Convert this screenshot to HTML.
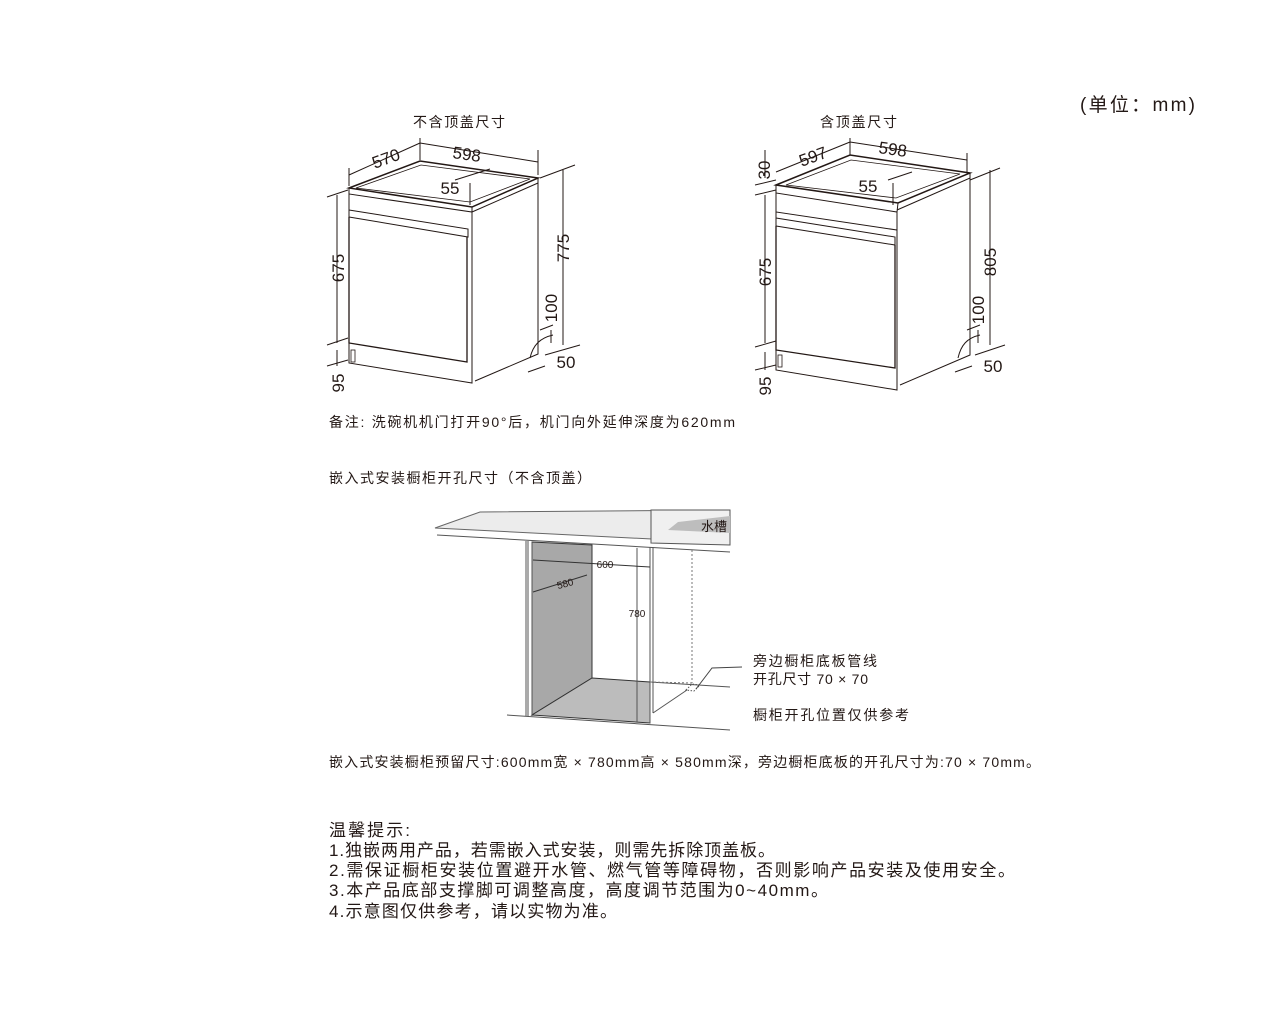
<!DOCTYPE html>
<html><head><meta charset="utf-8"><style>
html,body{margin:0;padding:0;background:#fff;}
svg{display:block;}
text{font-family:"Liberation Sans","Noto Sans CJK SC",sans-serif;fill:#231815;}
</style></head><body>
<svg width="1280" height="1013" viewBox="0 0 1280 1013" xmlns="http://www.w3.org/2000/svg">
<g stroke="#231815" fill="none" stroke-width="1">
<!-- LEFT UNIT -->
<path d="M349,188 L420,161 L538,178 L472,207 Z" stroke-width="1.5"/>
<path d="M356,188 L421,165 L530,179 L470,202 Z" stroke-width="0.8"/>
<path d="M349,188 L349,194 L472,212 L472,207"/>
<path d="M349,194 L349,363 L472,383 L472,212"/>
<path d="M349,210 L468,229 L468,237 L349,217"/>
<path d="M349,217 L349,343 L467,362 L467,237" stroke-width="1.3"/>
<path d="M472,207 L538,178 L538,354 L475,381"/>
<path d="M472,212 L538,183"/>
<rect x="351" y="350" width="4" height="12" stroke-width="0.8"/>
<!-- dims left -->
<path d="M349,175 L420,143 M420,138 L420,160 M538,150 L538,175 M420,143 L538,162 M349,168 L349,186"/>
<path d="M337,195 L337,343 M327,197 L348,190 M327,345 L348,338 M337,350 L337,366 M327,366 L348,360"/>
<path d="M563,170 L563,345 M540,178 L575,165 M545,355 L580,345 M551,330 L551,343 M540,330 L553,325 M530,358 C533,345 540,338 553,335 M528,372 L545,366"/>
<path d="M455,180 L490,169 M470,183 L470,205"/>
<!-- RIGHT UNIT -->
<path d="M776,185 L850,155 L970,173 L898,203 Z" stroke-width="1.5"/>
<path d="M786,185 L851,160 L960,174 L896,198 Z" stroke-width="0.8"/>
<path d="M776,185 L776,193 L897,212 L898,203"/>
<path d="M776,193 L776,212 L897,230 L897,212"/>
<path d="M776,212 L776,370 L897,390 L897,230"/>
<path d="M776,218 L895,237 L895,245 L776,226"/>
<path d="M776,226 L776,350 L895,368 L895,245" stroke-width="1.3"/>
<path d="M897,210 L970,178 L970,355 L900,385"/>
<path d="M970,173 L970,178"/>
<rect x="778" y="355" width="4" height="12" stroke-width="0.8"/>
<path d="M776,172 L850,142 M850,138 L850,155 M967,153 L967,172 M850,142 L967,160"/>
<path d="M765,150 L765,178 M755,185 L776,180 M765,195 L765,343 M755,195 L776,190 M755,347 L776,341 M765,352 L765,370 M755,370 L776,365"/>
<path d="M990,170 L990,345 M970,180 L1000,168 M975,355 L1005,345 M978,330 L978,343 M967,330 L980,325 M958,358 C961,345 967,338 980,335 M955,372 L972,366"/>
<path d="M888,180 L912,172 M893,183 L893,205"/>
<!-- CABINET -->
<path d="M435,528 L480,512 L730,510 L730,543 Z" fill="#ececec" stroke="#666"/>
<path d="M437,535 L730,552" stroke="#555"/>
<path d="M651,510 L730,510 L730,545 L651,543 Z" fill="#f0f0f0" stroke="#555"/>
<path d="M668,530 L678,522 L730,516 L730,533 Z" fill="#bdbdbd" stroke="none"/>
<path d="M532,542 L592,545 L592,678 L532,715 Z" fill="#a8a8a8" stroke="#333"/>
<path d="M592,678 L650,682 L650,723 L532,715 Z" fill="#bcbcbc" stroke="#333"/>
<path d="M526,541 L526,716 M528,541 L528,716 M532,542 L532,716" stroke="#555"/>
<path d="M637,548 L637,722 M650,547 L650,723 M653,547 L653,713" stroke="#555"/>
<path d="M507,715 L730,730 M650,682 L730,687 M653,713 L687,690" stroke="#555"/>
<path d="M692,550 L692,683 M650,682 L692,683" stroke="#777" stroke-dasharray="2,2"/>
<path d="M686,690 L692,684 L700,685 L694,691 Z" stroke="#555" stroke-dasharray="1.5,1.5"/>
<path d="M696,689 L712,668 L742,667" stroke="#444"/>
<path d="M533,560 L650,567 M533,592 L587,575" stroke="#333"/>
</g>
<g font-size="17">
<text x="388" y="164" transform="rotate(-20 388 164)" text-anchor="middle">570</text>
<text x="466" y="160" transform="rotate(8 466 160)" text-anchor="middle">598</text>
<text x="450" y="194" text-anchor="middle">55</text>
<text x="344" y="268" transform="rotate(-90 344 268)" text-anchor="middle">675</text>
<text x="569" y="248" transform="rotate(-90 569 248)" text-anchor="middle">775</text>
<text x="557" y="308" transform="rotate(-90 557 308)" text-anchor="middle">100</text>
<text x="566" y="368" text-anchor="middle">50</text>
<text x="344" y="383" transform="rotate(-90 344 383)" text-anchor="middle">95</text>
<text x="770" y="170" transform="rotate(-90 770 170)" text-anchor="middle">30</text>
<text x="815" y="162" transform="rotate(-20 815 162)" text-anchor="middle">597</text>
<text x="892" y="155" transform="rotate(8 892 155)" text-anchor="middle">598</text>
<text x="868" y="192" text-anchor="middle">55</text>
<text x="771" y="272" transform="rotate(-90 771 272)" text-anchor="middle">675</text>
<text x="996" y="262" transform="rotate(-90 996 262)" text-anchor="middle">805</text>
<text x="984" y="310" transform="rotate(-90 984 310)" text-anchor="middle">100</text>
<text x="993" y="372" text-anchor="middle">50</text>
<text x="771" y="386" transform="rotate(-90 771 386)" text-anchor="middle">95</text>
</g>
<g font-size="10">
<text x="605" y="568" text-anchor="middle">600</text>
<text x="566" y="587" text-anchor="middle" transform="rotate(-15 566 587)">580</text>
<text x="637" y="617" text-anchor="middle">780</text>
</g>
<text x="701" y="531" font-size="13">水槽</text>
<g font-size="14">
<text x="413" y="127" textLength="92">不含顶盖尺寸</text>
<text x="820" y="127" textLength="77">含顶盖尺寸</text>
<text x="329" y="427" textLength="406">备注: 洗碗机机门打开90°后，机门向外延伸深度为620mm</text>
<text x="329" y="483" textLength="262">嵌入式安装橱柜开孔尺寸（不含顶盖）</text>
<text x="753" y="666" textLength="124">旁边橱柜底板管线</text>
<text x="753" y="684" textLength="115">开孔尺寸 70 × 70</text>
<text x="753" y="720" textLength="156">橱柜开孔位置仅供参考</text>
<text x="329" y="767" textLength="711">嵌入式安装橱柜预留尺寸:600mm宽 × 780mm高 × 580mm深，旁边橱柜底板的开孔尺寸为:70 × 70mm。</text>
</g>
<text x="1080" y="111" font-size="19" textLength="115">(单位：mm)</text>
<g font-size="17">
<text x="329" y="836" textLength="81">温馨提示:</text>
<text x="329" y="856" textLength="446">1.独嵌两用产品，若需嵌入式安装，则需先拆除顶盖板。</text>
<text x="329" y="876" textLength="686">2.需保证橱柜安装位置避开水管、燃气管等障碍物，否则影响产品安装及使用安全。</text>
<text x="329" y="896" textLength="499">3.本产品底部支撑脚可调整高度，高度调节范围为0~40mm。</text>
<text x="329" y="917" textLength="288">4.示意图仅供参考，请以实物为准。</text>
</g>
</svg>
</body></html>
